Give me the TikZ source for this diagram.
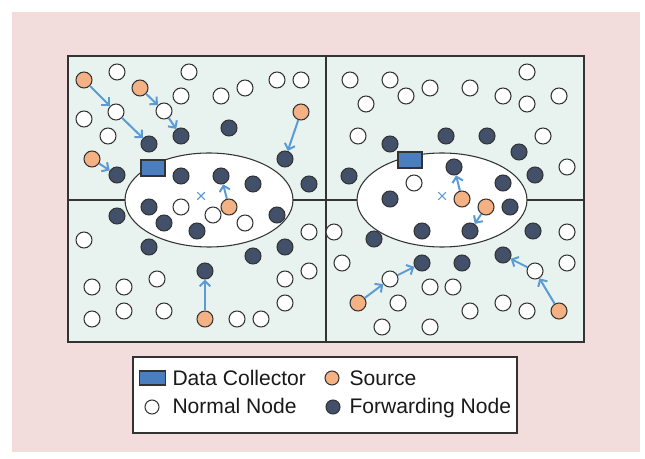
\documentclass[tikz,border=0pt]{standalone}
\usepackage{fontspec}
\setmainfont{Liberation Sans}
\usetikzlibrary{
  arrows.meta,
  shapes
}
\definecolor{bgpink}{HTML}{F2DCDC}
\definecolor{fieldgreen}{HTML}{E8F3EF}
\definecolor{srcorange}{HTML}{F4B183}
\definecolor{fwddark}{HTML}{42506A}
\definecolor{dcblue}{HTML}{4A7EBF}
\definecolor{hopblue}{HTML}{5B9BD5}
\definecolor{edgegray}{HTML}{333333}

\begin{document}
\begin{tikzpicture}[x=0.75pt, y=-0.75pt,
  every node/.style = {shape=circle, draw=edgegray, line width=0.8pt,
    minimum size=12pt, inner sep=0pt},
  normal/.style = {fill=white},
  forward/.style = {fill=fwddark},
  source/.style = {fill=srcorange},
  collector/.style = {shape=rectangle, fill=dcblue,
    minimum width=18pt, minimum height=12pt},
  sink/.style = {shape=cross out, draw=hopblue, line width=0.8pt, minimum size=5pt},
  hop/.style = {draw=hopblue, line width=1.5pt,
    -{Straight Barb[length=4pt, width=8pt]}},
  legendtext/.style = {draw=none, shape=rectangle, inner sep=0pt,
    anchor=base west, text=black!90, font=\fontsize{15.8}{19}\selectfont}]
    \useasboundingbox (0,0) rectangle (645,459);
    \fill[bgpink] (12,12) rectangle (640,452);
    \draw[edgegray, line width=1pt, fill=fieldgreen] (68,56) rectangle (584,342);
    \draw[edgegray, line width=1pt] (326,56) -- (326,342) (68,200) -- (584,200);
    \draw[edgegray, line width=0.8pt, fill=white] (209,200) ellipse [x radius=63pt, y radius=35.25pt];
    \draw[edgegray, line width=0.8pt, fill=white] (442,200) ellipse [x radius=63.75pt, y radius=35.25pt];

    \node[sink] (sinkL) at (201,196) {};
    \node[sink] (sinkR) at (442,196) {};

    \foreach \x/\y [count=\i] in {117/72, 189/72, 181/96, 84/119, 108/136, 221/96,
        245/88, 277/80, 301/80, 181/207, 213/215, 245/223, 84/240, 92/287, 124/287,
        157/279, 92/319, 124/311, 164/311, 237/319, 261/319, 285/279, 285/303,
        309/232, 309/271, 350/80, 390/80, 430/88, 406/96, 366/104, 358/136, 414/183,
        527/72, 470/88, 503/96, 527/104, 559/96, 543/136, 567/167, 334/232, 342/263,
        430/287, 453/287, 398/303, 382/327, 430/327, 567/232, 567/263, 470/311,
        503/303, 527/311}
      \node[normal] (n\i) at (\x,\y) {};

    \foreach \x/\y [count=\i] in {229/128, 181/176, 253/184, 309/184, 149/207,
        117/216, 164/223, 197/231, 277/215, 149/247, 253/256, 285/247, 390/144,
        446/136, 487/136, 519/152, 349/176, 503/183, 535/175, 390/199, 510/207,
        422/231, 374/239, 533/231, 462/263}
      \node[forward] (fw\i) at (\x,\y) {};

    \node[normal] (r1) at (116,112) {};
    \node[normal] (r2) at (164,111) {};
    \node[normal] (r3) at (390,279) {};
    \node[normal] (r4) at (535,271) {};

    \node[forward] (f1) at (149,144) {};
    \node[forward] (f2) at (181,136) {};
    \node[forward] (f3) at (117,175) {};
    \node[forward] (f4) at (285,159) {};
    \node[forward] (f5) at (221,176) {};
    \node[forward] (f6) at (205,271) {};
    \node[forward] (f7) at (454,167) {};
    \node[forward] (f8) at (470,231) {};
    \node[forward] (f9) at (422,263) {};
    \node[forward] (f10) at (503,255) {};

    \node[source] (s1) at (84,80) {};
    \node[source] (s2) at (140,88) {};
    \node[source] (s3) at (92,159) {};
    \node[source] (s4) at (301,112) {};
    \node[source] (s5) at (229,207) {};
    \node[source] (s6) at (205,319) {};
    \node[source] (s7) at (462,199) {};
    \node[source] (s8) at (486,207) {};
    \node[source] (s9) at (358,303) {};
    \node[source] (s10) at (559,311) {};

    \node[collector] (dcL) at (153,168) {};
    \node[collector] (dcR) at (410,160) {};

    \draw[hop] (s1) -- (r1);
    \draw[hop] (r1) -- (f1);
    \draw[hop] (s2) -- (r2);
    \draw[hop] (r2) -- (f2);
    \draw[hop] (s3) -- (f3);
    \draw[hop] (s4) -- (f4);
    \draw[hop] (s5) -- (f5);
    \draw[hop] (s6) -- (f6);
    \draw[hop] (s7) -- (f7);
    \draw[hop] (s8) -- (f8);
    \draw[hop] (s9) -- (r3);
    \draw[hop] (r3) -- (f9);
    \draw[hop] (s10) -- (r4);
    \draw[hop] (r4) -- (f10);

    \draw[edgegray, line width=1pt, fill=white] (133,357) rectangle (517,433);
    \node[collector, minimum width=19pt, minimum height=10.5pt] (keyDC) at (152.5,378) {};
    \node[legendtext] (txtDC) at (172,385) {Data Collector};
    \node[source, minimum size=10.5pt] (keySrc) at (332,378) {};
    \node[legendtext] (txtSrc) at (349,385) {Source};
    \node[normal, minimum size=10.5pt] (keyN) at (152,407) {};
    \node[legendtext] (txtN) at (172,413) {Normal Node};
    \node[forward, minimum size=10.5pt] (keyF) at (333,407) {};
    \node[legendtext] (txtF) at (349,413) {Forwarding Node};
\end{tikzpicture}
\end{document}
